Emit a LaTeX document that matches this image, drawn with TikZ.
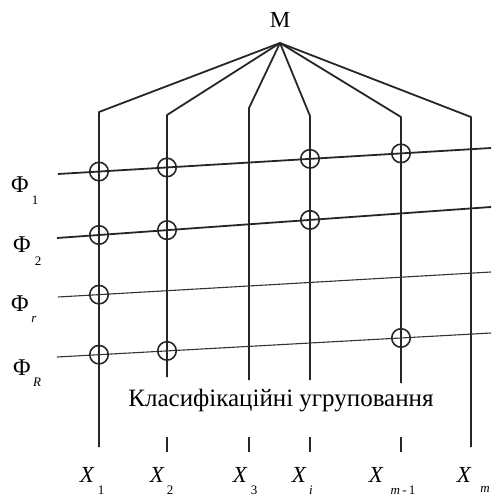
\documentclass[tikz,border=0pt]{standalone}
\usepackage{fontspec}
\setmainfont{Liberation Serif}
\usetikzlibrary{calc}
\begin{document}
\begin{tikzpicture}[x=1pt,y=-1pt,
  thickline/.style={line width=1.8pt,black!85},
  thinline/.style={line width=1.1pt,black!80},
  cross/.style={circle,draw,line width=1.6pt,black!85,minimum size=18.5pt,inner sep=0pt},
  flabel/.style={font=\fontsize{24}{24}\selectfont,inner sep=0pt},
  subl/.style={font=\fontsize{13}{13}\selectfont\itshape,inner sep=0pt},
  xlabel/.style={font=\fontsize{23}{23}\selectfont\itshape,inner sep=0pt}]
\useasboundingbox (0,0) rectangle (491,498);
% apex
\node[font=\fontsize{23}{23}\selectfont,inner sep=0pt] (M) at (280,20) {M};
\coordinate (A) at (280,43);
% corners
\coordinate (c1) at (99,112);
\coordinate (c2) at (167,115);
\coordinate (c3) at (249,108);
\coordinate (c4) at (310,116);
\coordinate (c5) at (401,117);
\coordinate (c6) at (471,117);
% bottoms
\coordinate (b1) at (99,447);
\coordinate (b2) at (167,377);
\coordinate (b3) at (249,380);
\coordinate (b4) at (310,380);
\coordinate (b5) at (401,383);
\coordinate (b6) at (471,447);
\foreach \i in {1,...,6} {\draw[thickline,line join=round] (A) -- (c\i) -- (b\i);}
% ticks
\foreach \i/\x in {2/167,3/249,4/310,5/401} {
  \coordinate (t\i a) at (\x,437);
  \coordinate (t\i b) at (\x,452);
  \draw[thickline] (t\i a) -- (t\i b);
}
% factor lines
\coordinate (L1a) at (58,174); \coordinate (L1b) at (491,148);
\coordinate (L2a) at (57,238); \coordinate (L2b) at (491,207);
\coordinate (L3a) at (58,297); \coordinate (L3b) at (491,272);
\coordinate (L4a) at (57,357); \coordinate (L4b) at (491,333);
\draw[thickline] (L1a) -- (L1b);
\draw[thickline] (L2a) -- (L2b);
\draw[thinline] (L3a) -- (L3b);
\draw[thinline] (L4a) -- (L4b);
% circles
\node[cross] (o11) at ($(L1a)!{(99-58)/433}!(L1b)$) {};
\node[cross] (o12) at ($(L1a)!{(167-58)/433}!(L1b)$) {};
\node[cross] (o14) at ($(L1a)!{(310-58)/433}!(L1b)$) {};
\node[cross] (o15) at ($(L1a)!{(401-58)/433}!(L1b)$) {};
\node[cross] (o21) at ($(L2a)!{(99-57)/434}!(L2b)$) {};
\node[cross] (o22) at ($(L2a)!{(167-57)/434}!(L2b)$) {};
\node[cross] (o24) at ($(L2a)!{(310-57)/434}!(L2b)$) {};
\node[cross] (o31) at ($(L3a)!{(99-58)/433}!(L3b)$) {};
\node[cross] (o41) at ($(L4a)!{(99-57)/434}!(L4b)$) {};
\node[cross] (o42) at ($(L4a)!{(167-57)/434}!(L4b)$) {};
\node[cross] (o45) at ($(L4a)!{(401-57)/434}!(L4b)$) {};
% factor labels
\node[flabel] (F1) at (20,185) {Φ};  \node[subl] (F1s) at (35,200) {\upshape 1};
\node[flabel] (F2) at (22,245) {Φ};  \node[subl] (F2s) at (38,261) {\upshape 2};
\node[flabel] (F3) at (20,304) {Φ};  \node[subl] (F3s) at (34,319) {r};
\node[flabel] (F4) at (22,368) {Φ};  \node[subl] (F4s) at (37,382) {R};
% caption
\node[font=\fontsize{25}{25}\selectfont,inner sep=0pt] (cap) at (281,401) {Класифікаційні угруповання};
% X labels
\node[xlabel] (X1) at (87,475) {X}; \node[subl] (X1s) at (101,490) {\upshape 1};
\node[xlabel] (X2) at (157,475) {X}; \node[subl] (X2s) at (170,490) {\upshape 2};
\node[xlabel] (X3) at (240,475) {X}; \node[subl] (X3s) at (254,490) {\upshape 3};
\node[xlabel] (X4) at (299,475) {X}; \node[subl] (X4s) at (311,490) {i};
\node[xlabel] (X5) at (376,475) {X}; \node[subl] (X5s) at (403,490) {m\,-\,\upshape 1};
\node[xlabel] (X6) at (464,475) {X}; \node[subl] (X6s) at (485,489) {m};
\end{tikzpicture}
\end{document}
